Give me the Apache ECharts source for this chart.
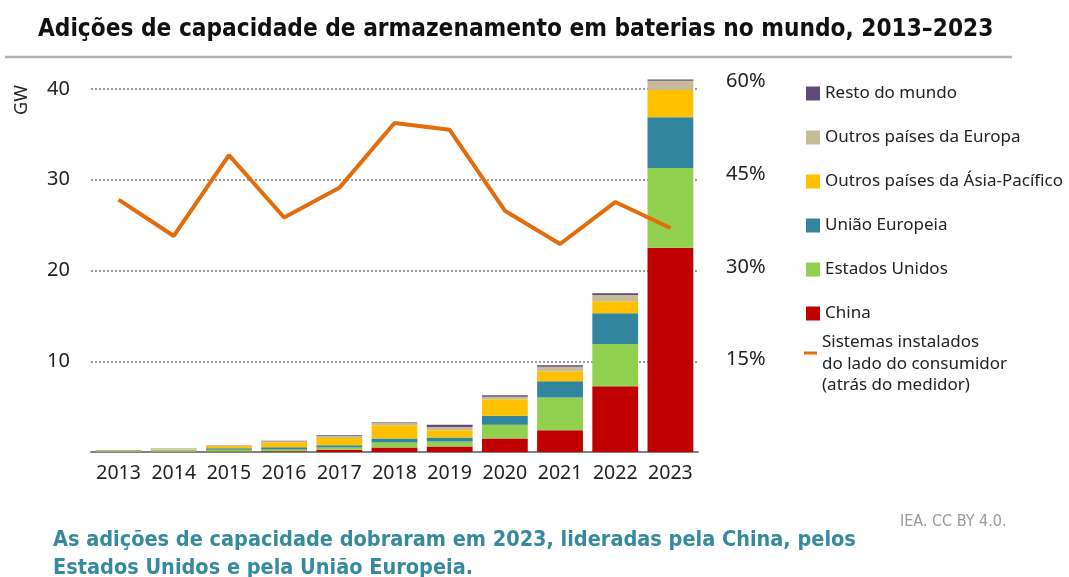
<!DOCTYPE html>
<html>
<head>
    <meta charset="utf-8">
    <script src="https://cdn.jsdelivr.net/npm/echarts@6/dist/echarts.min.js"></script>
</head>
<body style="margin:0;background:#fff">
    <div id="main" style="width:1069px;height:577px;"></div>
<script type="text/javascript">
    // dados (GW)
    var anos = ['2013', '2014', '2015', '2016', '2017', '2018', '2019', '2020', '2021', '2022', '2023'];
    var china          = [0.02, 0.03, 0.05, 0.08, 0.25, 0.5, 0.6, 1.5, 2.4, 7.25, 22.5];
    var estadosUnidos  = [0.08, 0.12, 0.2, 0.2, 0.25, 0.55, 0.55, 1.5, 3.6, 4.65, 8.8];
    var uniaoEuropeia  = [0.03, 0.05, 0.15, 0.25, 0.25, 0.45, 0.45, 1.0, 1.8, 3.4, 5.6];
    var asiaPacifico   = [0.03, 0.08, 0.25, 0.55, 0.8, 1.45, 0.8, 1.8, 1.1, 1.3, 3.0];
    var outrosEuropa   = [0.04, 0.08, 0.05, 0.1, 0.2, 0.3, 0.35, 0.3, 0.5, 0.7, 1.0];
    var restoMundo     = [0.02, 0.03, 0.03, 0.05, 0.1, 0.05, 0.25, 0.15, 0.15, 0.2, 0.15];
    // participação dos sistemas atrás do medidor (%)
    var atrasMedidor   = [40.9, 35.0, 48.1, 38.0, 42.8, 53.3, 52.2, 39.1, 33.7, 40.5, 36.3];

    var gwTicks = { min: 0, max: 40, interval: 10 };
    var pctTicks = { min: 0, max: 60, interval: 15 };

    var myChart = echarts.init(document.getElementById('main'));
    var fonte = 'Noto Sans';
    var fonteTitulo = 'DejaVu Sans Condensed';

    var barras = [
        ['China', china, '#C00000'],
        ['Estados Unidos', estadosUnidos, '#92D050'],
        ['União Europeia', uniaoEuropeia, '#31859C'],
        ['Outros países da Ásia-Pacífico', asiaPacifico, '#FFC000'],
        ['Outros países da Europa', outrosEuropa, '#C4BD97'],
        ['Resto do mundo', restoMundo, '#604A7B']
    ];
    var nomeLinha = 'Sistemas instalados\ndo lado do consumidor\n(atrás do medidor)';

    var series = barras.map(function (b) {
        return {
            name: b[0],
            type: 'bar',
            stack: 'total',
            clip: false,
            barCategoryGap: '17%',
            itemStyle: { color: b[2] },
            data: b[1]
        };
    });
    series.push({
        name: nomeLinha,
        type: 'line',
        xAxisIndex: 1,
        yAxisIndex: 1,
        z: 5,
        symbol: 'none',
        color: '#E46C0A',
        lineStyle: { color: '#E46C0A', width: 4 },
        data: atrasMedidor
    });

    var option = {
        backgroundColor: '#fff',
        animation: false,
        title: [
            {
                text: 'Adições de capacidade de armazenamento em baterias no mundo, 2013–2023',
                left: 33, top: 13,
                textStyle: { fontFamily: fonteTitulo, fontWeight: 'bold', fontSize: 24.2, color: '#111' }
            },
            {
                text: 'As adições de capacidade dobraram em 2023, lideradas pela China, pelos\nEstados Unidos e pela União Europeia.',
                left: 48, top: 521,
                textStyle: { fontFamily: fonteTitulo, fontWeight: 'bold', fontSize: 21.5, lineHeight: 28, color: '#358A9D' }
            },
            {
                text: 'IEA. CC BY 4.0.',
                left: 895, top: 509,
                textStyle: { fontFamily: fonteTitulo, fontWeight: 'normal', fontSize: 16, color: '#9a9a9a' }
            }
        ],
        graphic: [
            { type: 'line', shape: { x1: 5, y1: 57, x2: 1012, y2: 57 }, style: { stroke: '#b4b4b4', lineWidth: 2.5 } },
            { type: 'text', x: 22, y: 100, rotation: Math.PI / 2,
              style: { text: 'GW', fill: '#222', font: '18px "Noto Sans"', align: 'center', verticalAlign: 'middle' } }
        ],
        legend: [
            {
                orient: 'vertical',
                left: 806, top: 85,
                padding: 0,
                itemWidth: 14, itemHeight: 14, itemGap: 27,
                icon: 'rect',
                textStyle: { fontFamily: fonte, fontSize: 17, lineHeight: 16, color: '#222' },
                data: ['Resto do mundo', 'Outros países da Europa', 'Outros países da Ásia-Pacífico',
                       'União Europeia', 'Estados Unidos', 'China']
            },
            {
                orient: 'vertical',
                left: 804, top: 310,
                padding: 0,
                itemWidth: 13, itemHeight: 3,
                icon: 'rect',
                formatter: function (name) { return '\n' + name; },
                textStyle: { fontFamily: fonte, fontSize: 17, lineHeight: 21.5, color: '#222' },
                data: [{ name: nomeLinha, itemStyle: { color: '#E46C0A', borderWidth: 0 } }]
            }
        ],
        grid: [
            { left: 91, right: 371, top: 89, bottom: 125 },
            { left: 91, right: 371, top: 81.7, bottom: 125 }
        ],
        xAxis: [
            {
                type: 'category',
                gridIndex: 0,
                data: anos,
                axisLine: { lineStyle: { color: '#808080', width: 2 } },
                axisTick: { show: false },
                axisLabel: { fontFamily: fonte, fontSize: 19.5, color: '#222', margin: 11, interval: 0 }
            },
            {
                type: 'category',
                gridIndex: 1,
                data: anos,
                show: false
            }
        ],
        yAxis: [
            {
                type: 'value',
                gridIndex: 0,
                min: gwTicks.min, max: gwTicks.max, interval: gwTicks.interval,
                axisLine: { show: false },
                axisTick: { show: false },
                axisLabel: { fontFamily: fonte, fontSize: 20, color: '#222', margin: 21,
                             formatter: function (v) { return v === 0 ? '' : v; } },
                splitLine: { lineStyle: { color: '#9a9a9a', width: 2, type: [2, 2] } }
            },
            {
                type: 'value',
                gridIndex: 1,
                position: 'right',
                min: pctTicks.min, max: pctTicks.max, interval: pctTicks.interval,
                axisLine: { show: false },
                axisTick: { show: false },
                splitLine: { show: false },
                axisLabel: { fontFamily: fonte, fontSize: 20, color: '#222', margin: 28,
                             formatter: function (v) { return v === 0 ? '' : v + '%'; } }
            }
        ],
        series: series
    };

    myChart.setOption(option);
</script>
</body>
</html>
